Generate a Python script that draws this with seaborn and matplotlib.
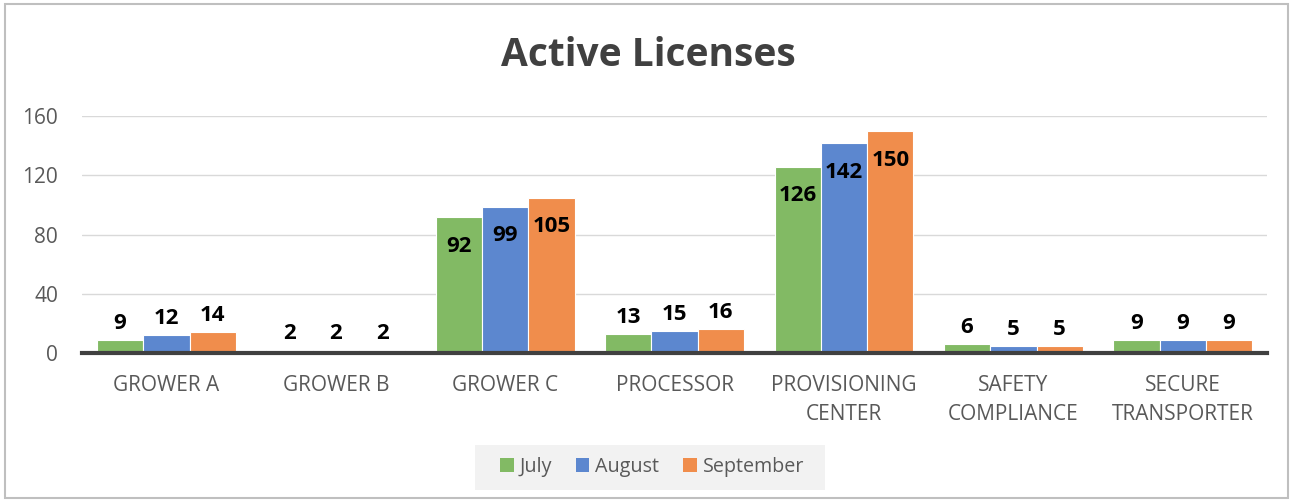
import pandas as pd
import matplotlib.pyplot as plt
import seaborn as sns
from matplotlib.patches import Rectangle, Patch

# data
categories = ['GROWER A', 'GROWER B', 'GROWER C', 'PROCESSOR',
              'PROVISIONING\nCENTER', 'SAFETY\nCOMPLIANCE', 'SECURE\nTRANSPORTER']
months = ['July', 'August', 'September']
july = [9, 2, 92, 13, 126, 6, 9]
august = [12, 2, 99, 15, 142, 5, 9]
september = [14, 2, 105, 16, 150, 5, 9]
yticks = [0, 40, 80, 120, 160]

colors = ['#82ba64', '#5c87cf', '#f08d4c']

df = pd.DataFrame({
    'category': categories * 3,
    'month': [m for m in months for _ in categories],
    'count': july + august + september,
})

sns.set_style('white')
plt.rcParams['font.family'] = ['Open Sans', 'DejaVu Sans']

fig = plt.figure(figsize=(12.96, 5.03), dpi=100)
ax = fig.add_axes([0.063, 0.298, 0.915, 0.471])

sns.barplot(data=df, x='category', y='count', hue='month', palette=colors,
            saturation=1, width=0.82, edgecolor='white', linewidth=0.8, ax=ax, legend=False)

ax.set_ylim(0, 160)
ax.set_yticks(yticks)
ax.set_xlim(-0.5, len(categories) - 0.5)
ax.yaxis.grid(True, color='#d9d9d9', linewidth=1)
ax.set_axisbelow(True)
for s in ['top', 'right', 'left']:
    ax.spines[s].set_visible(False)
ax.spines['bottom'].set_color('#404040')
ax.spines['bottom'].set_linewidth(3)
ax.tick_params(axis='both', length=0, labelsize=15, colors='#595959')
ax.tick_params(axis='x', pad=16)
ax.tick_params(axis='y', pad=17)
for lbl in ax.get_xticklabels():
    lbl.set_linespacing(1.45)
ax.set_xlabel('')
ax.set_ylabel('')

# data labels: inside end for tall bars, above for short ones
for cont in ax.containers:
    for bar in cont:
        h = bar.get_height()
        xc = bar.get_x() + bar.get_width() / 2
        off = -21 if h > 50 else 12
        ax.annotate(f'{int(h)}', (xc, h), xytext=(0, off), textcoords='offset points',
                    ha='center', va='center', fontsize=16, fontweight='bold', color='black')

fig.text(0.5, 0.889, 'Active Licenses', ha='center', va='center',
         fontsize=28, fontweight='bold', color='#404040')

# legend with light grey band behind it
fig.patches.append(Rectangle((0.3665, 0.026), 0.27, 0.0895, transform=fig.transFigure,
                             facecolor='#f2f2f2', edgecolor='none', zorder=0))
handles = [Patch(facecolor=c, edgecolor='none') for c in colors]
leg = fig.legend(handles, months, loc='center', bbox_to_anchor=(0.503, 0.071), ncol=3,
                 frameon=False, fontsize=14.2, handlelength=0.7, handleheight=0.7,
                 handletextpad=0.3, columnspacing=1.2)
for t in leg.get_texts():
    t.set_color('#595959')

fig.patches.append(Rectangle((0.004, 0.01), 0.99, 0.982, transform=fig.transFigure,
                             fill=False, edgecolor='#bfbfbf', linewidth=1.5))

fig.savefig('out.png', dpi=100)
